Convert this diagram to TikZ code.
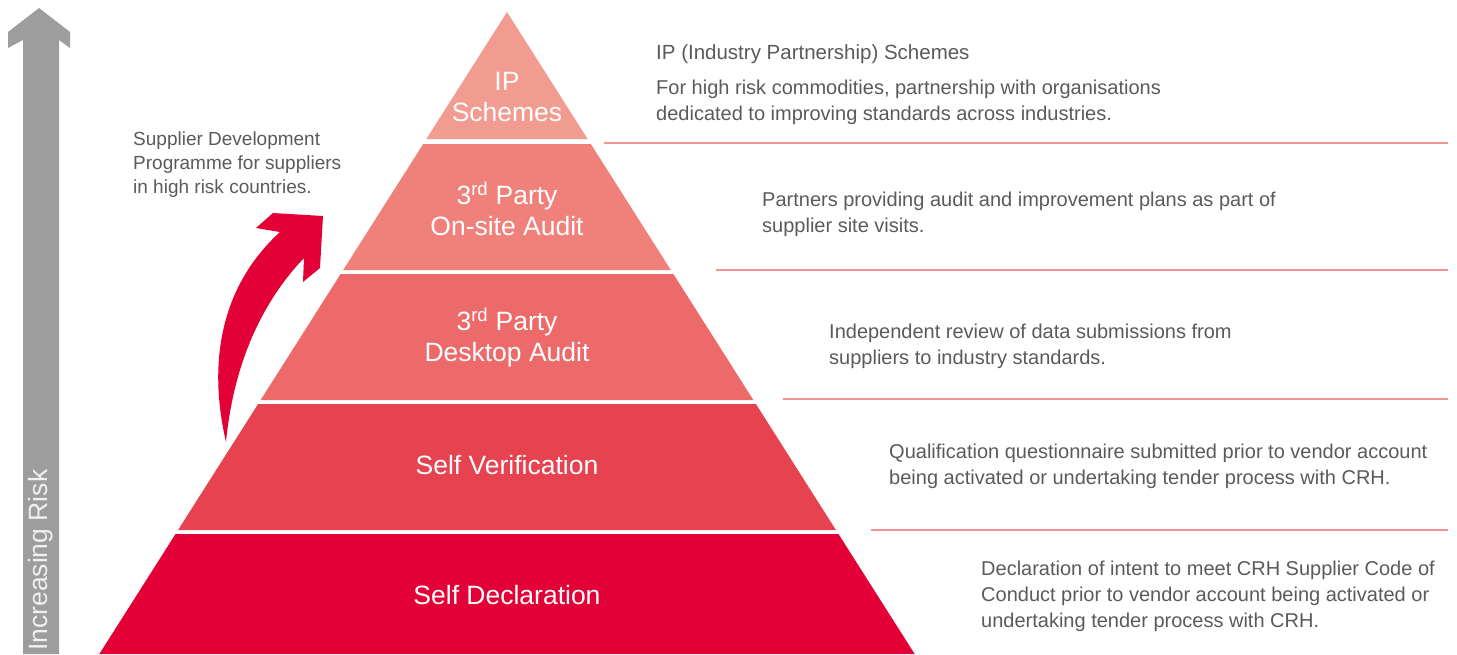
\documentclass[tikz,border=0pt]{standalone}
\usepackage{fontspec}
\setmainfont{Liberation Sans}
\definecolor{layA}{HTML}{F29B91}
\definecolor{layB}{HTML}{EF817A}
\definecolor{layC}{HTML}{EC6B6A}
\definecolor{layD}{HTML}{E6424F}
\definecolor{layE}{HTML}{E30037}
\definecolor{riskgray}{HTML}{9D9D9D}
\definecolor{txtgray}{HTML}{5A5A5A}
\definecolor{sepline}{HTML}{F29590}
\newcommand\pyrlayer[3]{\fill[#3] ({507-(#1-12)*0.635},#1) -- ({507+(#1-12)*0.635},#1) -- ({507+(#2-12)*0.635},#2) -- ({507-(#2-12)*0.635},#2) -- cycle;}
\newcommand\supx[1]{\textsuperscript{\scriptsize #1}}
\begin{document}
\begin{tikzpicture}[x=1pt,y=-1pt,
  lab/.style={text=white,align=center,font=\fontsize{26.5}{31}\selectfont,inner sep=0pt},
  desc/.style={text=txtgray,align=left,anchor=west,font=\fontsize{20}{26}\selectfont,inner sep=0pt},
  sdesc/.style={text=txtgray,align=left,anchor=west,font=\fontsize{19}{24}\selectfont,inner sep=0pt},
  sepl/.style={draw=sepline,line width=1.5pt}]
\useasboundingbox (0,0) rectangle (1457,654);
% pyramid layers
\pyrlayer{12}{139}{layA}
\pyrlayer{144}{270}{layB}
\pyrlayer{274}{400}{layC}
\pyrlayer{404}{530}{layD}
\pyrlayer{534}{654}{layE}
% labels
\node[lab] (ip) at (507,97) {IP\\Schemes};
\node[lab] (tpo) at (507,209) {3\textsuperscript{rd} Party\\On-site Audit};
\node[lab] (tpd) at (507,338) {3\textsuperscript{rd} Party\\Desktop Audit};
\node[lab] (sv) at (507,465) {Self Verification};
\node[lab] (sd) at (507,595) {Self Declaration};
% increasing risk arrow
\fill[riskgray] (39,8) -- (70,32) -- (70,48) -- (59,40) -- (59,654) -- (23,654) -- (23,40) -- (8,48) -- (8,32) -- cycle;
\node[text=white!94!black,rotate=90,anchor=west,font=\fontsize{26.5}{30}\selectfont,inner sep=0pt] (risk) at (41,651) {Increasing Risk};
% red curved arrow
\fill[layE] (226,442) .. controls (207,360) and (222,285) .. (280,232) -- (256,228) -- (273,213) -- (323,216) -- (320,268) -- (303,282) -- (304,258) .. controls (264,300) and (234,360) .. (226,442) -- cycle;
\node[sdesc] (sdp) at (133,165) {Supplier Development\\Programme for suppliers\\in high risk countries.};
% right descriptions
\node[desc,font=\fontsize{20.5}{26}\selectfont] (iph) at (656,54) {IP (Industry Partnership) Schemes};
\node[desc] (ipd) at (656,102.5) {For high risk commodities, partnership with organisations\\dedicated to improving standards across industries.};
\node[desc] (tpod) at (762,214.5) {Partners providing audit and improvement plans as part of\\supplier site visits.};
\node[desc] (tpdd) at (829,346.5) {Independent review of data submissions from\\suppliers to industry standards.};
\node[desc] (svd) at (889,466.5) {Qualification questionnaire submitted prior to vendor account\\being activated or undertaking tender process with CRH.};
\node[desc] (sdd) at (981,596) {Declaration of intent to meet CRH Supplier Code of\\Conduct prior to vendor account being activated or\\undertaking tender process with CRH.};
% separator lines
\draw[sepl] (604,143) -- (1448,143);
\draw[sepl] (716,270) -- (1448,270);
\draw[sepl] (783,399) -- (1448,399);
\draw[sepl] (871,530) -- (1448,530);
\end{tikzpicture}
\end{document}
